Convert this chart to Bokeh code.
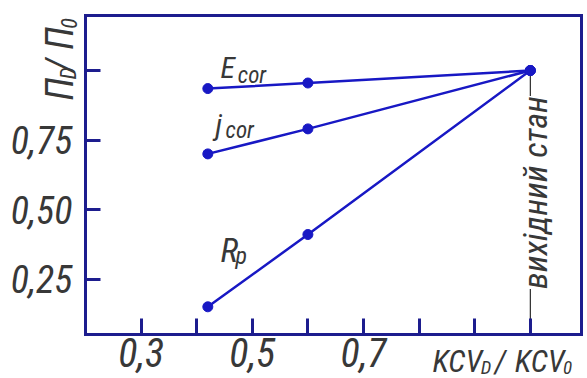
from bokeh.plotting import figure
from bokeh.models import FixedTicker, Label, Range1d, LinearAxis
from bokeh.embed import file_html
from bokeh.resources import INLINE
import math

# ---- data ----
kcv_ratio = [0.42, 0.60, 1.00]
e_cor = [0.935, 0.955, 1.00]
j_cor = [0.70, 0.79, 1.00]
r_p = [0.15, 0.41, 1.00]

y_ticks = [0.25, 0.50, 0.75, 1.00]
y_tick_labels = ["0,25", "0,50", "0,75", ""]
x_ticks = [0.3, 0.4, 0.5, 0.6, 0.7, 0.8, 0.9, 1.0]
x_tick_labels = ["0,3", "", "0,5", "", "0,7", "", "", ""]

X0, X1 = 0.2, 1.092      # plot box
Y0, Y1 = 0.05, 1.198

FONT = "Roboto Condensed"
LINE = "#1818c4"
FRAME = "#1d1d8e"
TXT = "#383838"

p = figure(width=587, height=378, output_backend="svg", toolbar_location=None,
           x_range=Range1d(0.0471, 1.1029), y_range=Range1d(-0.1079, 1.2518),
           x_axis_location=None, y_axis_location=None,
           min_border_left=0, min_border_right=0, min_border_top=0, min_border_bottom=0)
p.grid.visible = False
p.background_fill_color = "white"
p.border_fill_color = "white"
p.outline_line_color = None


def style_axis(ax):
    ax.axis_line_color = FRAME
    ax.axis_line_width = 3
    ax.axis_line_cap = "square"
    ax.major_tick_line_color = FRAME
    ax.major_tick_line_width = 3
    ax.major_tick_out = 0
    ax.minor_tick_line_color = None
    ax.major_label_text_font = FONT
    ax.major_label_text_font_style = "italic"
    ax.major_label_text_color = TXT


ya = LinearAxis(fixed_location=X0, bounds=(Y0, Y1), ticker=FixedTicker(ticks=y_ticks),
                major_label_overrides={t: s for t, s in zip(y_ticks, y_tick_labels)})
style_axis(ya)
ya.major_tick_in = 15
ya.major_label_text_font_size = "38px"
ya.major_label_standoff = 13
p.add_layout(ya, "left")

xa = LinearAxis(fixed_location=Y0, bounds=(X0, X1), ticker=FixedTicker(ticks=x_ticks),
                major_label_overrides={t: s for t, s in zip(x_ticks, x_tick_labels)})
style_axis(xa)
xa.major_tick_in = 16
xa.major_label_text_font_size = "40px"
xa.major_label_standoff = 3
p.add_layout(xa, "below")

ra = LinearAxis(fixed_location=X1, bounds=(Y0, Y1), ticker=FixedTicker(ticks=[Y0]),
                major_label_overrides={Y0: ""})
style_axis(ra)
ra.major_tick_in = 0
p.add_layout(ra, "right")

ta = LinearAxis(fixed_location=Y1, bounds=(X0, X1), ticker=FixedTicker(ticks=[X0]),
                major_label_overrides={X0: ""})
style_axis(ta)
ta.major_tick_in = 0
p.add_layout(ta, "above")

# reference line for initial state
p.segment(x0=[kcv_ratio[-1]], y0=[Y0], x1=[kcv_ratio[-1]], y1=[e_cor[-1]],
          line_color="black", line_width=1)

for ys in (e_cor, j_cor, r_p):
    p.line(kcv_ratio, ys, line_color=LINE, line_width=2.5)
    p.scatter(kcv_ratio, ys, size=10, fill_color=LINE, line_color=LINE)


def lab(x, y, t, size, angle=0, align="left", baseline="alphabetic", **kw):
    p.add_layout(Label(x=x, y=y, text=t, text_font=FONT, text_font_style="italic",
                       text_font_size=f"{size}px", text_color=TXT, angle=angle,
                       text_align=align, text_baseline=baseline, **kw))


# x axis title KCV_D/KCV_0
lab(0.824, -0.045, "KCV", 31)
lab(0.911, -0.068, "D", 19)
lab(0.936, -0.045, "/", 31)
lab(0.972, -0.045, "KCV", 31)
lab(1.059, -0.068, "0", 19)

# y axis title П_D/П_0 (rotated)
rot = math.pi / 2
lab(0.155, 0.892, "П", 38, angle=rot)
lab(0.170, 0.968, "D", 22, angle=rot)
lab(0.155, 0.995, "/", 38, angle=rot)
lab(0.155, 1.075, "П", 38, angle=rot)
lab(0.170, 1.150, "0", 22, angle=rot)

# series labels
lab(0.443, 1.011, "E", 30)
lab(0.474, 0.982, "cor", 23)
lab(0.434, 0.806, "j", 30)
lab(0.452, 0.784, "cor", 23)
lab(0.443, 0.353, "R", 34)
lab(0.470, 0.331, "p", 24)

# vertical annotation
lab(1.009, 0.561, "вихідний стан", 34, angle=rot, align="center", baseline="middle",
    background_fill_color="white", background_fill_alpha=1.0)

open("out.html", "w").write(file_html(p, INLINE))
